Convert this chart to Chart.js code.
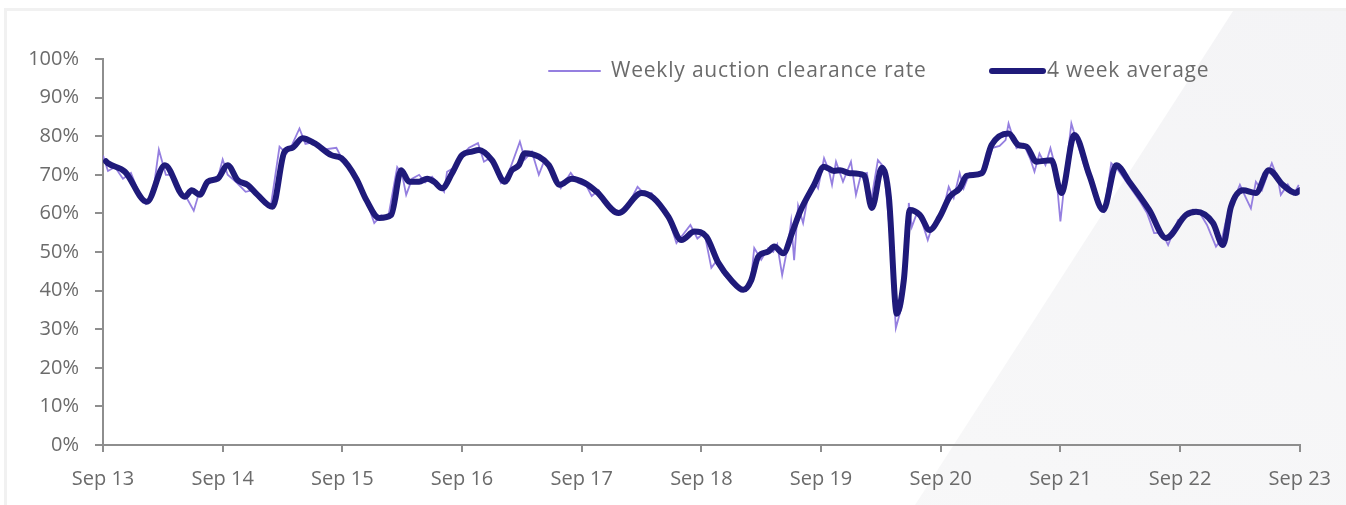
<!DOCTYPE html>
<html><head><meta charset="utf-8">
<script src="https://cdn.jsdelivr.net/npm/chart.js@4.4.0/dist/chart.umd.min.js"></script>
<style>
html,body{margin:0;padding:0;width:1346px;height:505px;overflow:hidden;background:#fff;}
#bg{position:absolute;left:0;top:0;width:1346px;height:505px;background:linear-gradient(200deg,#f4f4f6 0%,#f7f7f8 60%,#fafafa 100%);clip-path:polygon(1235px 8px,1346px 8px,1346px 505px,915px 505px);}
#frame{position:absolute;left:4px;top:8px;width:1400px;height:600px;border:3px solid #f1f1f1;box-sizing:border-box;}
#wrap{position:absolute;left:0;top:0;width:1346px;height:505px;}
</style></head>
<body>
<div id="bg"></div>
<div id="frame"></div>
<div id="wrap"><canvas id="c" width="1346" height="505"></canvas></div>
<script>
const tickLabels = ['Sep 13','Sep 14','Sep 15','Sep 16','Sep 17','Sep 18','Sep 19','Sep 20','Sep 21','Sep 22','Sep 23'];
const seriesNames = ['Weekly auction clearance rate','4 week average'];

// months since Sep 2013
const avgMonths = [0.3,0.5,2.2,4.4,6.2,8.2,8.9,9.7,10.5,11.5,12.5,13.5,14.5,15.5,17.0,18.2,19.0,20.0,21.2,22.9,23.9,25.4,26.4,27.7,28.9,29.9,30.7,31.7,32.5,33.2,34.0,35.0,36.0,37.0,37.7,39.0,40.3,41.0,41.7,42.3,43.7,44.7,45.8,47.0,48.3,49.5,51.7,54.0,55.2,56.7,58.0,59.3,60.5,61.7,63.0,64.2,65.0,65.7,66.7,67.3,68.2,69.2,69.9,71.3,72.3,73.3,73.9,74.9,76.3,77.1,78.1,78.8,79.6,80.3,80.9,81.9,82.9,83.9,84.9,85.9,86.6,88.1,89.1,90.8,91.8,92.6,93.6,95.1,96.1,97.4,98.9,100.3,101.6,102.9,104.9,106.6,108.6,109.6,111.3,112.3,113.1,114.3,115.6,116.9,118.3,119.6,120.0];
const avgValues = [73.5,73,70.8,63,72.5,64.3,66,64.8,68.2,69,72.5,68.6,67.4,64.8,61.7,76,77,79.5,78.2,75.1,74.3,69,63.5,58.8,59.6,71.2,68.2,68.2,69,68.2,66.5,70.4,75.1,76,76.4,73.8,68.2,71.2,72.5,75.6,74.7,72.5,67.4,69,67.9,65.6,60.1,65.3,64,59.1,53.1,55.3,54,47.2,42.7,40.2,42.7,48.8,50.1,51.4,49.7,55.7,60.5,67.4,72.1,71,71.2,70.4,69.9,61.4,71.8,64.3,34,42.7,60.9,59.6,55.7,59.1,64.3,66.5,69.7,70.4,77.7,80.7,77.7,77.3,73.4,73.8,65.3,80.3,69.9,60.9,72.5,68.2,60.9,53.6,59.6,60.4,57.5,51.8,61.7,66,65.3,71.2,67.4,65.3,66];

const weeklyMonths = [0,0.5,1.2,2.0,2.8,3.5,4.3,5.0,5.6,6.3,7.0,7.7,8.4,9.1,9.6,10.3,11.0,11.6,12.0,12.5,13.4,14.3,15.0,15.8,16.8,17.7,18.4,19.0,19.7,20.3,21.2,22.0,23.4,24.0,25.0,25.8,26.6,27.2,27.9,28.6,29.5,30.0,30.4,31.0,31.7,32.3,33.0,34.2,34.5,35.3,36.0,36.7,37.6,38.2,38.9,39.9,40.6,41.8,42.3,43.0,43.7,44.3,45.2,45.9,46.9,47.6,48.5,49.0,49.7,50.5,51.6,52.5,53.6,54.3,55.0,56.0,56.8,57.5,58.3,58.9,59.6,60.3,61.0,61.6,62.3,63.0,63.8,64.5,65.0,65.3,66.0,66.7,67.2,67.6,68.1,68.7,69.0,69.3,69.7,70.2,70.8,71.3,71.7,72.3,72.8,73.1,73.5,74.2,75.0,75.5,76.0,76.6,77.0,77.7,78.3,78.9,79.5,80.1,80.6,80.8,81.1,81.6,82.1,82.7,83.2,83.8,84.2,84.8,85.3,85.9,86.3,86.9,87.8,88.6,89.2,89.9,90.5,90.8,91.6,92.3,93.0,93.4,93.9,94.5,95.0,95.5,96.0,96.5,97.1,97.6,98.3,99.0,99.6,100.4,101.1,101.7,102.4,103.2,104.0,104.7,105.4,106.2,106.8,107.8,108.6,109.3,110.0,110.7,111.6,112.2,112.6,113.3,114.0,114.6,115.1,115.6,116.2,116.9,117.2,117.8,118.1,118.8,119.4,119.9];
const weeklyValues = [75,71,72,69,70.5,66,62.5,65,76.5,70,70,66,64,60.7,65,68,68.5,70,74,70,68,65.6,66,63.5,61.5,77.3,75.5,78,82,78,78.5,76.5,77,74,71,66,62,57.5,59.5,59,72,70,64.8,69,70,68,69.5,65.6,70.8,72,75,77,78.2,73.4,74.5,67.9,70,78.6,74,76,70,74,70,66.5,70.5,68,67,64.5,66,62.5,59.8,61.5,66.9,65,65.3,61.5,58,52.3,55,57,53.5,55,45.9,48,44,42,41,40,43.5,51,48,51,50,52,44,52,57.9,47.9,62,57.5,66,68.2,66.5,74.3,71,67.4,73.4,68.2,73.4,64.8,70,70.5,63,73.8,72,55,30.3,36,50,62.7,56.5,60,58,53.1,57,58,60.5,66.9,64,70.4,66.5,70.5,70.5,72,77,77.5,79,83.3,76.9,78,74,70.8,75.5,72.5,76.9,72,57.9,70,83.3,79,73,68,63,60.5,73,71.5,69,66,63,60,54.9,55,51.8,58.3,59,61,60,57,51.4,53.5,58,63,67.4,64,61.3,68.2,66,71,73,69,64.8,67.5,65,67.4];

const FONT = '"Open Sans", sans-serif';
const TXT = '#6b6b6b';
const AX = '#8e8e8e';
const C_WEEK = 'rgba(143,120,222,0.95)';
const C_AVG = '#1f1a7a';

const toXY = (xs, ys) => xs.map((x, i) => ({x: x, y: ys[i]}));

const legendPlugin = {
  id: 'customLegend',
  afterDraw(chart) {
    const ctx = chart.ctx;
    ctx.save();
    ctx.font = '21px ' + FONT;
    if ('letterSpacing' in ctx) ctx.letterSpacing = '0.8px';
    ctx.fillStyle = TXT;
    ctx.textBaseline = 'middle';
    ctx.lineCap = 'round';
    ctx.strokeStyle = C_WEEK; ctx.lineWidth = 2;
    ctx.beginPath(); ctx.moveTo(549, 71); ctx.lineTo(600, 71); ctx.stroke();
    ctx.fillText(seriesNames[0], 611, 71);
    ctx.strokeStyle = C_AVG; ctx.lineWidth = 6;
    ctx.beginPath(); ctx.moveTo(992, 71); ctx.lineTo(1043, 71); ctx.stroke();
    ctx.fillText(seriesNames[1], 1047, 71);
    ctx.restore();
  }
};

new Chart(document.getElementById('c'), {
  type: 'line',
  data: {
    datasets: [
      {label: seriesNames[0], data: toXY(weeklyMonths, weeklyValues), borderColor: C_WEEK, borderWidth: 1.8, pointRadius: 0, tension: 0, order: 2},
      {label: seriesNames[1], data: toXY(avgMonths, avgValues), borderColor: C_AVG, borderWidth: 6, pointRadius: 0, cubicInterpolationMode: 'monotone', borderJoinStyle: 'round', borderCapStyle: 'round', order: 1}
    ]
  },
  options: {
    responsive: false,
    animation: false,
    devicePixelRatio: 1,
    layout: {padding: {top: 59, right: 42, left: 0, bottom: 0}},
    plugins: {legend: {display: false}, tooltip: {enabled: false}},
    scales: {
      x: {
        type: 'linear', min: 0, max: 120,
        afterFit: s => { s.height = 60; },
        ticks: {stepSize: 12, autoSkip: false, maxRotation: 0, padding: 15, color: TXT, font: {family: FONT, size: 20},
          callback: v => tickLabels[Math.round(v / 12)]},
        grid: {display: true, drawOnChartArea: false, drawTicks: true, tickLength: 7, color: AX, lineWidth: 2},
        border: {display: true, color: AX, width: 2}
      },
      y: {
        min: 0, max: 100,
        afterFit: s => { s.width = 103; },
        ticks: {stepSize: 10, padding: 16, color: TXT, font: {family: FONT, size: 20}, callback: v => v + '%'},
        grid: {display: true, drawOnChartArea: false, drawTicks: true, tickLength: 8, color: AX, lineWidth: 2},
        border: {display: true, color: AX, width: 2}
      }
    }
  },
  plugins: [legendPlugin]
});
</script>
</body></html>
